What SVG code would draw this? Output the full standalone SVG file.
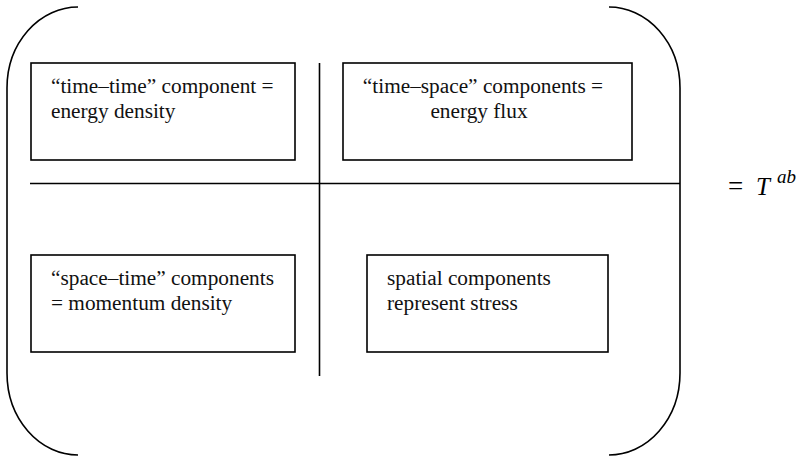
<svg xmlns="http://www.w3.org/2000/svg" width="803" height="459" viewBox="0 0 803 459">
<style>
.ln{fill:none;stroke:#000;stroke-width:1.6}
.box{fill:#fff;stroke:#000;stroke-width:1.6}
.t{font-size:21.3px;fill:#111}
</style>
<g id="brackets">
<path class="ln" d="M78,7 A71,81 0 0 0 7,88 L7,373 A71,82 0 0 0 78,455"/>
<path class="ln" d="M609,7 A71,81 0 0 1 680,88 L680,373 A71,82 0 0 1 609,455"/>
</g>
<g id="connectors">
<line class="ln" x1="30" y1="183.5" x2="680" y2="183.5"/>
<line class="ln" x1="319.5" y1="63" x2="319.5" y2="376"/>
</g>
<g font-family="Liberation Serif, Times New Roman, DejaVu Serif, serif">
<g id="node-time-time">
<rect class="box" x="31" y="63" width="264" height="97"/>
<text class="t" x="51" y="93">“time–time” component =</text>
<text class="t" x="51" y="118">energy density</text>
</g>
<g id="node-time-space">
<rect class="box" x="343" y="63" width="289" height="97"/>
<text class="t" x="483" y="93" text-anchor="middle">“time–space” components =</text>
<text class="t" x="479" y="118" text-anchor="middle">energy flux</text>
</g>
<g id="node-space-time">
<rect class="box" x="31" y="255" width="264" height="97"/>
<text class="t" x="51" y="285">“space–time” components</text>
<text class="t" x="51" y="310">= momentum density</text>
</g>
<g id="node-spatial">
<rect class="box" x="367" y="255" width="241" height="97"/>
<text class="t" x="387" y="285">spatial components</text>
<text class="t" x="387" y="310">represent stress</text>
</g>
<g id="equation">
<text x="728" y="195" font-size="27">=</text>
<text x="756" y="195" font-size="25" font-style="italic">T</text>
<text x="777" y="183" font-size="19" font-style="italic">ab</text>
</g>
</g>
</svg>
